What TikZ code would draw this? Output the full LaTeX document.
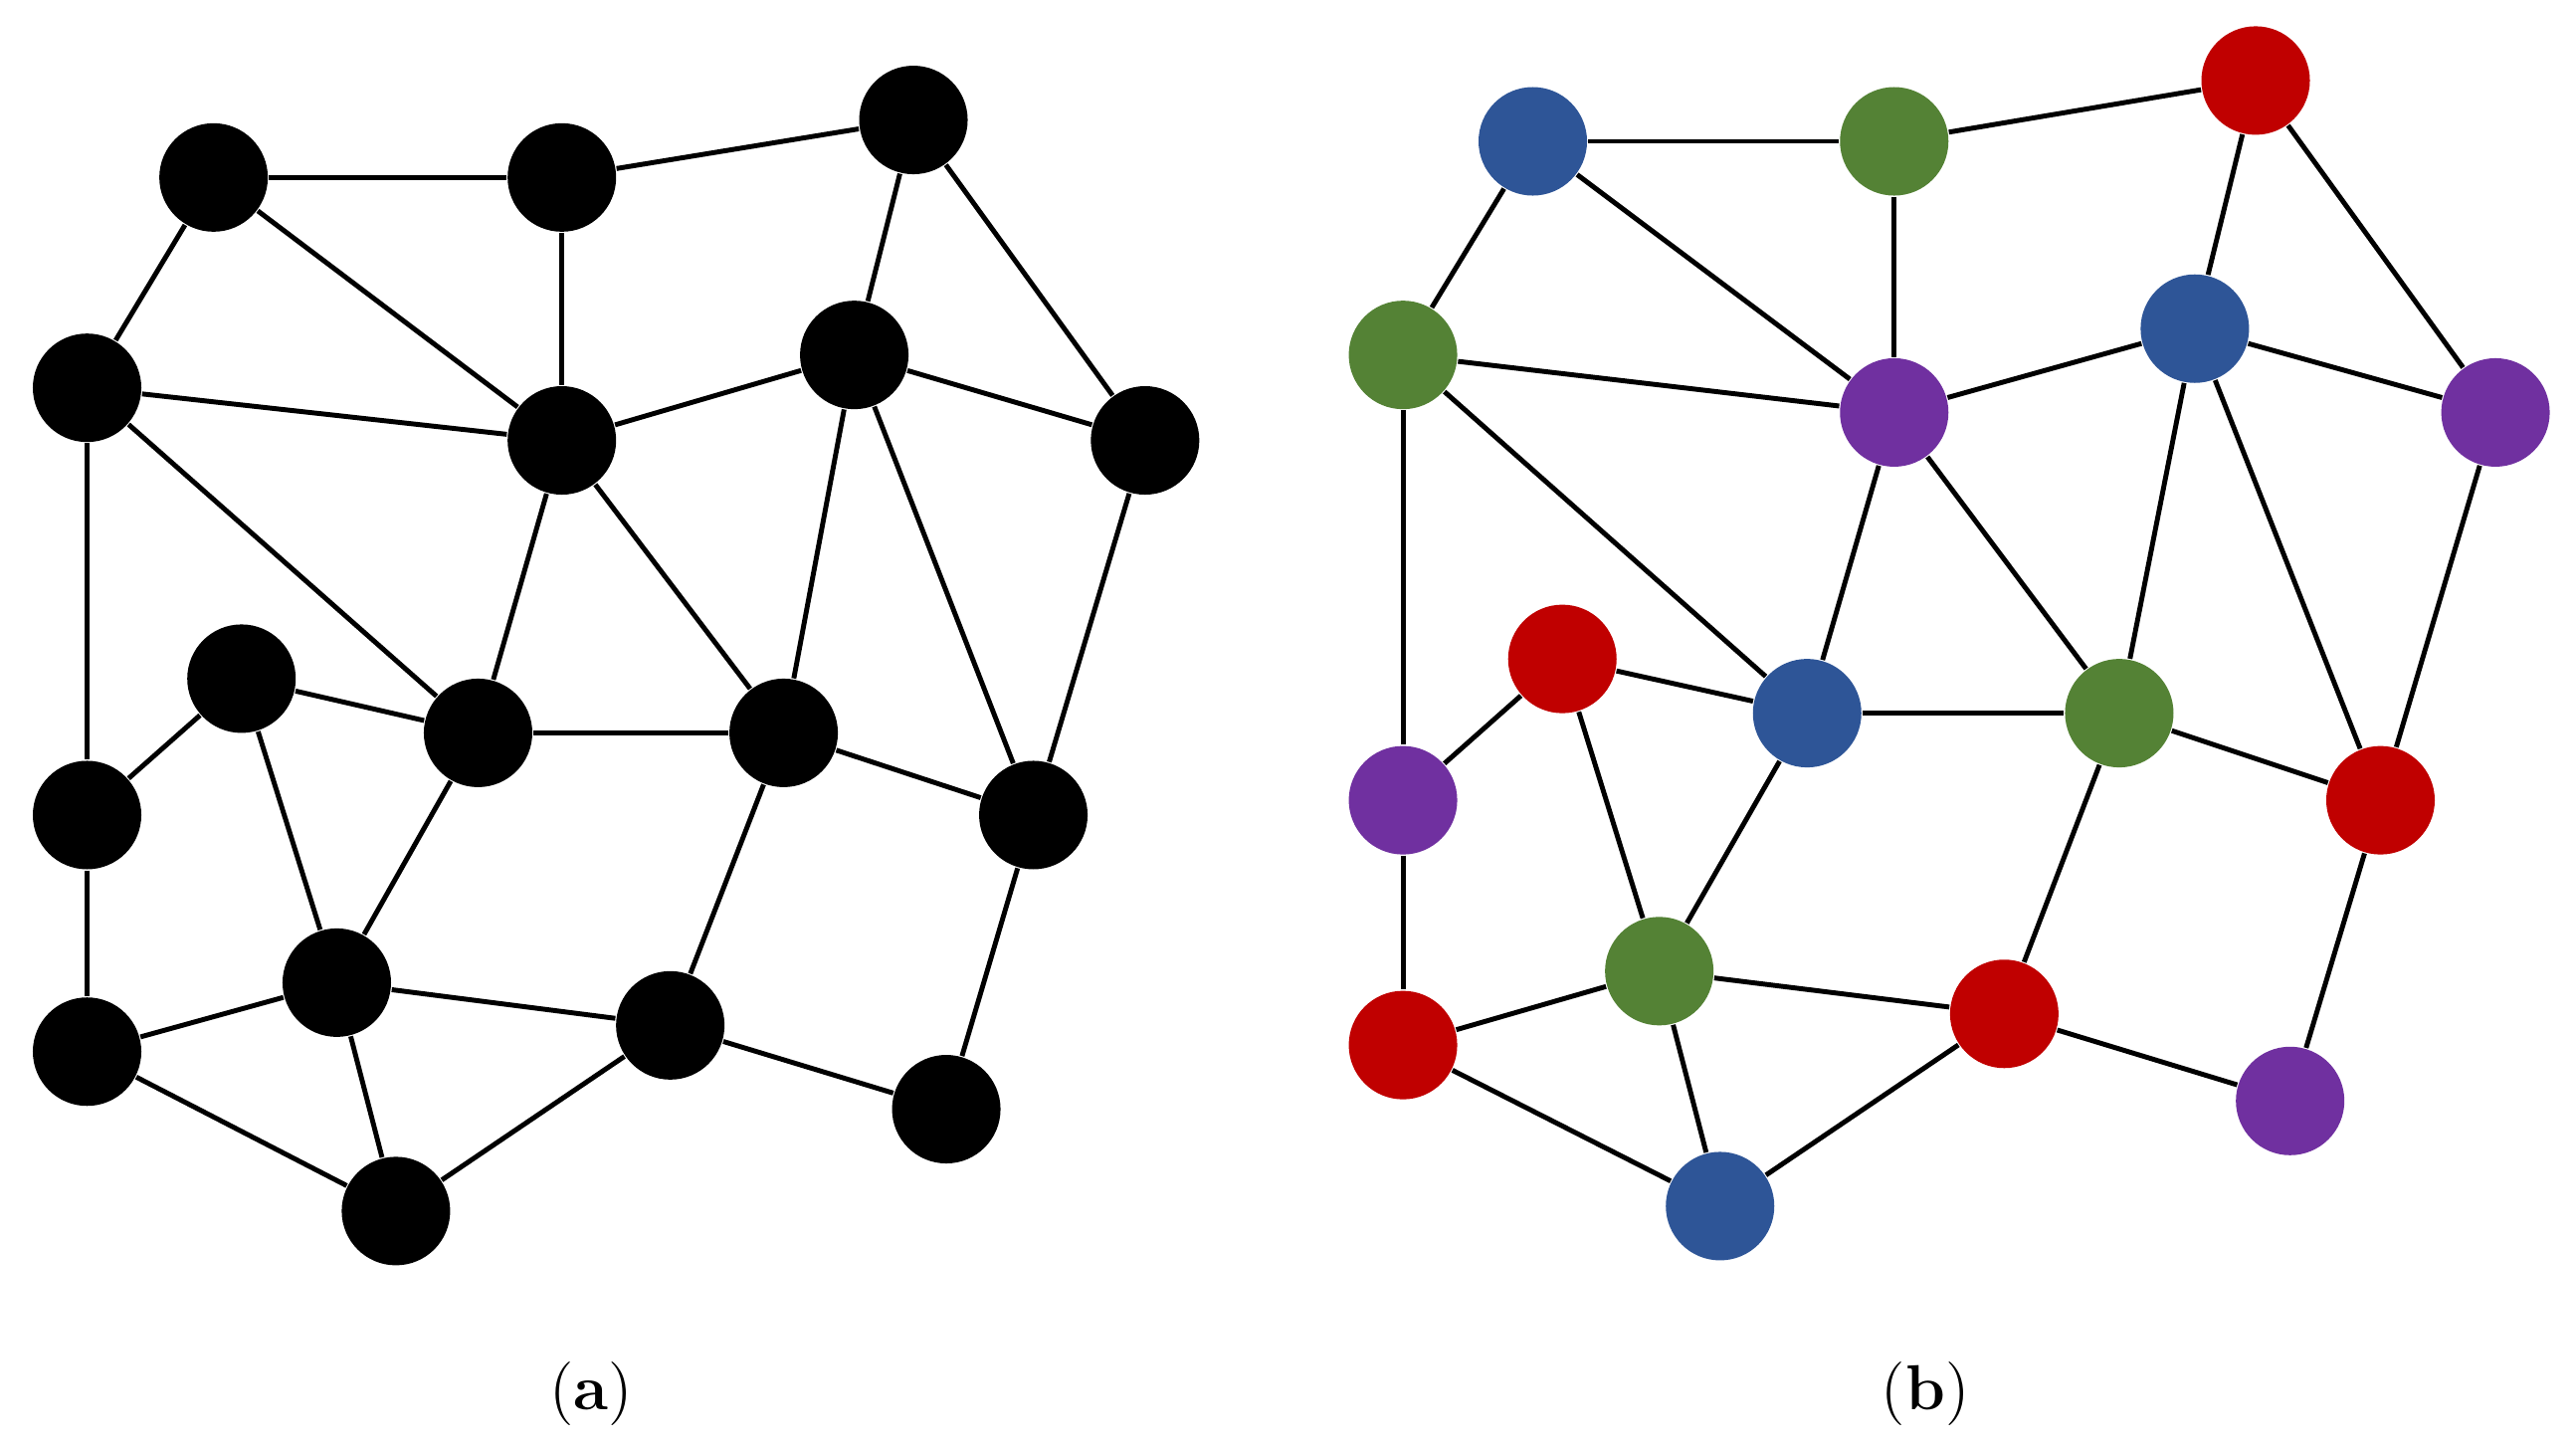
\documentclass[tikz,border=0pt]{standalone}
\usetikzlibrary{backgrounds}
\definecolor{cb}{HTML}{2E5597}
\definecolor{cg}{HTML}{548235}
\definecolor{cr}{HTML}{C00000}
\definecolor{cp}{HTML}{7030A0}
\begin{document}
\begin{tikzpicture}[x=0.01cm,y=-0.01cm,
  vtx/.style={circle,minimum size=0.66cm,inner sep=0pt},
  edge/.style={line width=0.85pt,black},
  lab/.style={font=\fontsize{11}{13}\selectfont}]
\useasboundingbox (0,0) rectangle (1568,881);
% graph (a)
\foreach \n/\x/\y in {1/130/108,2/342/108,3/556/73,4/53/236,5/520/216,6/342/268,7/697/268,8/147/413,9/291/446,10/477/446,11/53/496,12/629/496,13/205/598,14/53/640,15/408/624,16/576/675,17/241/737}
  \node[vtx,fill=black] (a\n) at (\x,\y) {};
% graph (b)
\foreach \n/\x/\y/\c in {1/933/86/cb,2/1153/86/cg,3/1373/49/cr,4/854/216/cg,5/1336/200/cb,6/1153/251/cp,7/1519/251/cp,8/951/401/cr,9/1100/434/cb,10/1290/434/cg,11/854/487/cp,12/1449/487/cr,13/1010/591/cg,14/854/636/cr,15/1220/617/cr,16/1394/670/cp,17/1047/734/cb}
  \node[vtx,fill=\c] (b\n) at (\x,\y) {};
\begin{scope}[on background layer]
\foreach \g in {a,b}
 \foreach \u/\v in {1/2,2/3,1/4,1/6,2/6,3/5,3/7,4/6,4/9,4/11,5/6,5/7,5/10,5/12,6/9,6/10,7/12,8/9,8/11,8/13,9/10,9/13,10/12,10/15,11/14,13/14,13/15,13/17,14/17,15/17,15/16,12/16}
  \draw[edge] (\g\u) -- (\g\v);
\end{scope}
\node[lab] (la) at (360,848) {(\textbf{a})};
\node[lab] (lb) at (1172,848) {(\textbf{b})};
\end{tikzpicture}
\end{document}
